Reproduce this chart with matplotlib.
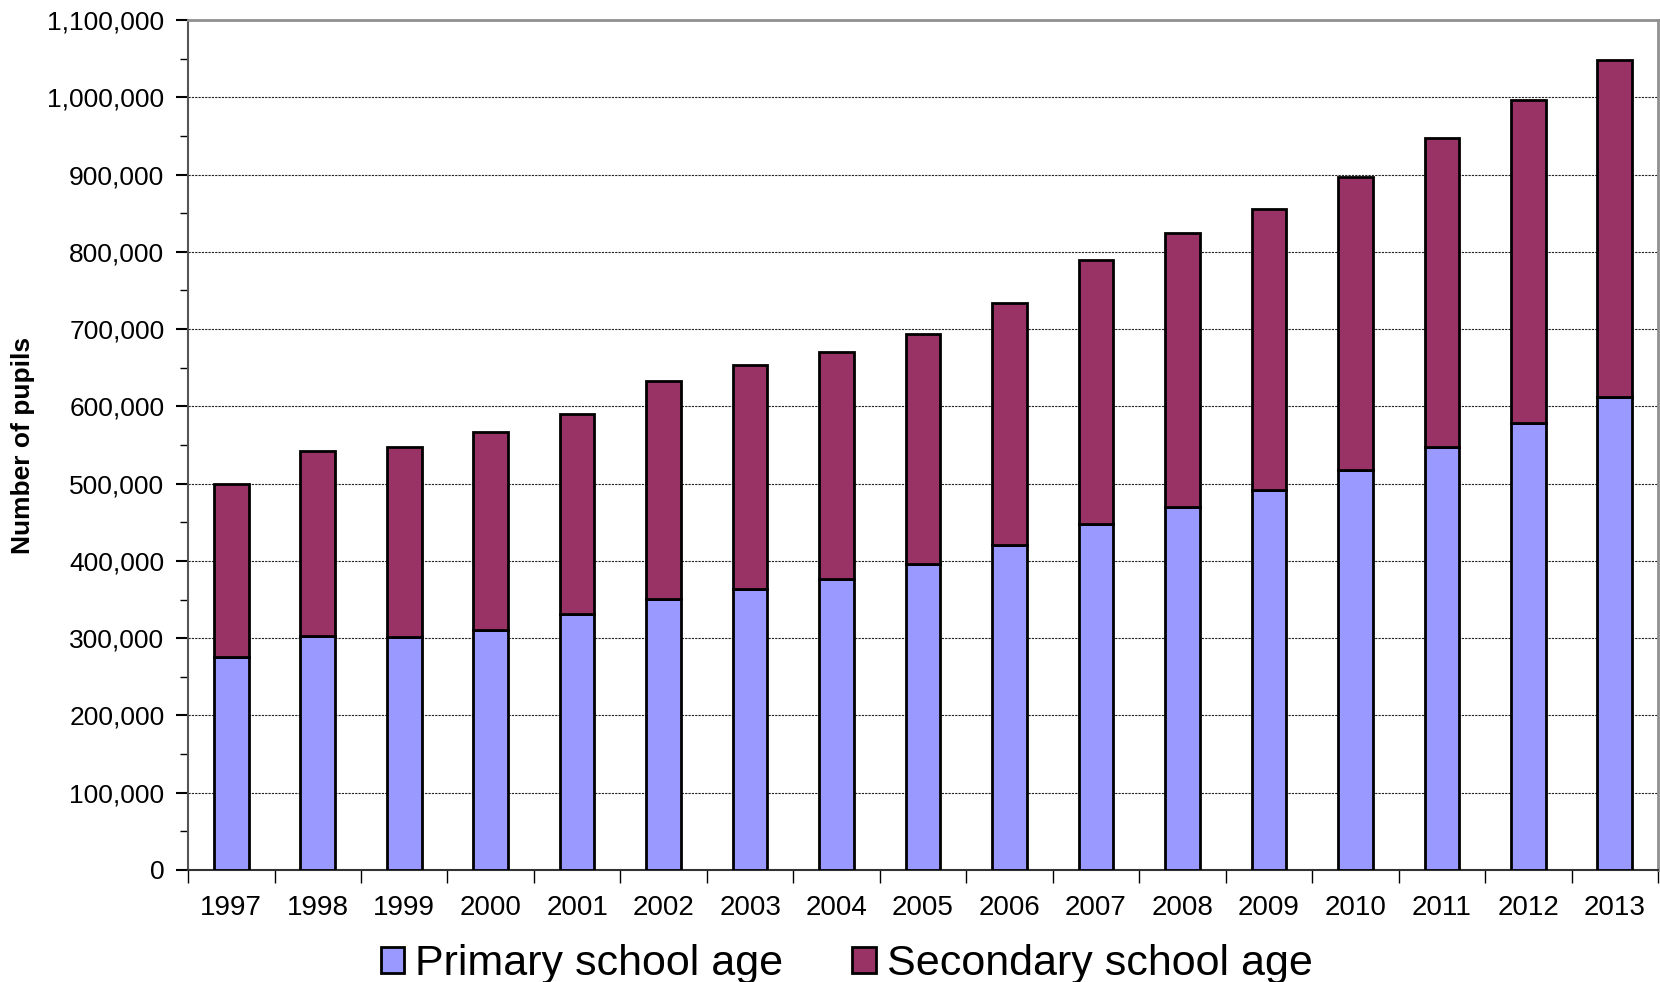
import matplotlib.pyplot as plt
from matplotlib.ticker import FuncFormatter, MultipleLocator, FixedLocator
import numpy as np

plt.rcParams['font.family'] = ['Liberation Sans', 'DejaVu Sans']

# Pupils by school age, per year
years = ['1997', '1998', '1999', '2000', '2001', '2002', '2003', '2004', '2005',
         '2006', '2007', '2008', '2009', '2010', '2011', '2012', '2013']
totals = [499000, 542000, 547000, 567000, 590000, 633000, 653000, 670000, 694000,
          734000, 790000, 825000, 855000, 897000, 947000, 996000, 1048000]
primary = [275000, 303000, 301000, 311000, 331000, 351000, 363000, 377000, 396000,
           420000, 448000, 470000, 492000, 518000, 547000, 578000, 612000]
secondary = [t - p for t, p in zip(totals, primary)]

fig = plt.figure(figsize=(16.6, 9.82), dpi=100)
ax = fig.add_axes([0.1133, 0.1141, 0.8855, 0.8655])

x = np.arange(len(years))
ax.bar(x, primary, width=0.4, color='#9999FF', edgecolor='black', linewidth=2,
       label='Primary school age', zorder=3)
ax.bar(x, secondary, width=0.4, bottom=primary, color='#993366', edgecolor='black',
       linewidth=2, label='Secondary school age', zorder=3)

ax.set_xlim(-0.5, len(years) - 0.5)
ax.set_ylim(0, 1100000)

ax.yaxis.set_major_locator(MultipleLocator(100000))
ax.yaxis.set_minor_locator(MultipleLocator(50000))
ax.yaxis.set_major_formatter(FuncFormatter(lambda v, pos: f'{int(v):,}'))
ax.tick_params(axis='y', which='major', length=9, width=1.5, labelsize=19, pad=8)
ax.tick_params(axis='y', which='minor', length=6, width=1)

ax.set_xticks(x)
ax.set_xticklabels(years)
ax.xaxis.set_minor_locator(FixedLocator(np.arange(-0.5, len(years), 1)))
ax.tick_params(axis='x', which='major', length=0, labelsize=20, pad=18)
ax.tick_params(axis='x', which='minor', length=9, width=1)

ax.grid(axis='y', which='major', color='#222222', linestyle=(0, (2, 1)), linewidth=0.8, zorder=0)

for side in ['top', 'right']:
    ax.spines[side].set_color('#909090')
    ax.spines[side].set_linewidth(2)
ax.spines['left'].set_color('#555555')
ax.spines['left'].set_linewidth(1.5)
ax.spines['bottom'].set_color('#333333')
ax.spines['bottom'].set_linewidth(1.5)

ax.set_ylabel('Number of pupils', fontsize=19, fontweight='bold')
ax.yaxis.set_label_coords(-0.104, 0.5)

fig.legend(loc='lower center', bbox_to_anchor=(0.51, -0.042), ncol=2, frameon=False,
           fontsize=31, handlelength=0.55, handleheight=0.55, handletextpad=0.25,
           columnspacing=1.6)

fig.savefig('out.png', dpi=100)
